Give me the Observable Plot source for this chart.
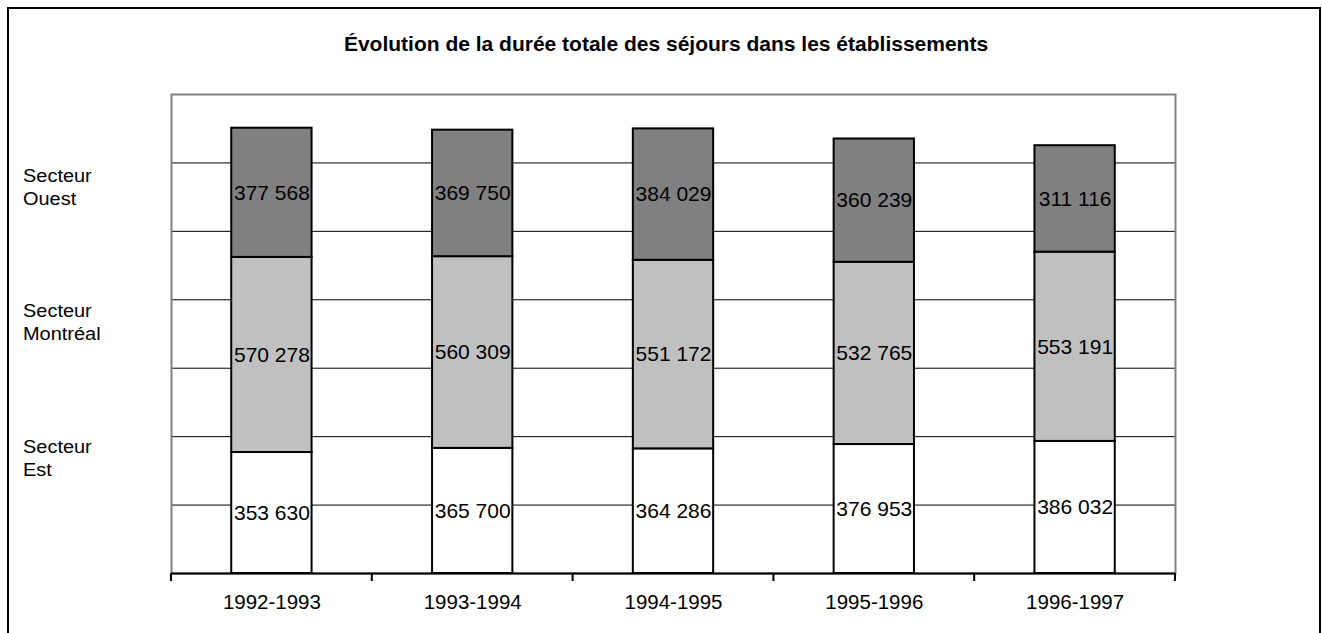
<!DOCTYPE html>
<html>
<head>
<meta charset="utf-8">
<script src="https://cdn.jsdelivr.net/npm/d3@7"></script>
<script src="https://cdn.jsdelivr.net/npm/@observablehq/plot@0.6"></script>
<style>
  body { margin: 0; background: #fff; }
  #wrap { position: relative; width: 1322px; height: 633px; overflow: hidden; font-family: "Liberation Sans", Arial, sans-serif; color: #000; }
  #chart { position: absolute; left: 0; top: 0; }
  #frame { position: absolute; left: 7px; top: 7px; width: 1310px; height: 700px; border: 2px solid #000; pointer-events: none; }
  #title { position: absolute; left: 11px; width: 1310px; top: 31px; line-height: 26px; text-align: center; font-weight: bold; font-size: 21px; }
  .side { position: absolute; left: 23px; font-size: 17.5px; line-height: 23px; transform: scaleX(1.14); transform-origin: left center; }
</style>
</head>
<body>
<div id="wrap">
  <div id="chart"></div>
  <div id="frame"></div>
  <div id="title"></div>
</div>
<script>
const title = "Évolution de la durée totale des séjours dans les établissements";
const years = ["1992-1993", "1993-1994", "1994-1995", "1995-1996", "1996-1997"];
const sectors = ["Secteur Est", "Secteur Montréal", "Secteur Ouest"];
const est = [353630, 365700, 364286, 376953, 386032];
const montreal = [570278, 560309, 551172, 532765, 553191];
const ouest = [377568, 369750, 384029, 360239, 311116];
const gridValues = [200000, 400000, 600000, 800000, 1000000, 1200000];
const sectorColors = ["#ffffff", "#c0c0c0", "#808080"];

const seriesValues = [est, montreal, ouest];
const rows = [];
years.forEach((year, i) => {
  sectors.forEach((sector, s) => rows.push({year, sector, value: seriesValues[s][i]}));
});

const fmt = v => d3.format(",")(v).replace(/,/g, " ");

document.getElementById("title").textContent = title;

// side labels (legend-like), top positions in px
const sideTops = [165, 300, 436];
[...sectors].reverse().forEach((s, i) => {
  const d = document.createElement("div");
  d.className = "side";
  d.style.top = sideTops[i] + "px";
  const parts = s.split(" ");
  d.innerHTML = parts[0] + "<br>" + parts.slice(1).join(" ");
  document.getElementById("wrap").appendChild(d);
});

const boundaryTicks = (index, scales, values, dimensions) => {
  const {width, height, marginLeft, marginRight, marginBottom} = dimensions;
  const n = years.length;
  const step = (width - marginLeft - marginRight) / n;
  const g = d3.create("svg:g");
  const y0 = height - marginBottom;
  d3.range(n + 1).forEach(i => {
    g.append("line")
      .attr("x1", marginLeft + i * step).attr("x2", marginLeft + i * step)
      .attr("y1", y0).attr("y2", y0 + 8)
      .attr("stroke", "black").attr("stroke-width", 2);
  });
  return g.node();
};

const chart = Plot.plot({
  width: 1322,
  height: 633,
  marginTop: 94,
  marginBottom: 60,
  marginLeft: 171,
  marginRight: 147,
  style: {fontFamily: "'Liberation Sans', Arial, sans-serif", background: "transparent", color: "black"},
  x: {domain: years, paddingInner: 0.6, paddingOuter: 0.3, round: false, label: null},
  y: {domain: [0, 1400000], axis: null},
  color: {domain: sectors, range: sectorColors},
  marks: [
    Plot.ruleY(gridValues, {stroke: "black", strokeWidth: 1}),
    Plot.frame({stroke: "#808080", strokeWidth: 2}),
    Plot.barY(rows, {x: "year", y: "value", fill: "sector", stroke: "black", strokeWidth: 2}),
    Plot.text(rows, Plot.stackY({x: "year", y: "value", z: "sector", text: d => fmt(d.value), fontSize: 21, fill: "black"})),
    Plot.ruleY([0], {stroke: "black", strokeWidth: 2}),
    boundaryTicks,
    Plot.axisX({tickSize: 0, tickPadding: 21, fontSize: 20.5, label: null})
  ]
});
document.getElementById("chart").appendChild(chart);
</script>
</body>
</html>
